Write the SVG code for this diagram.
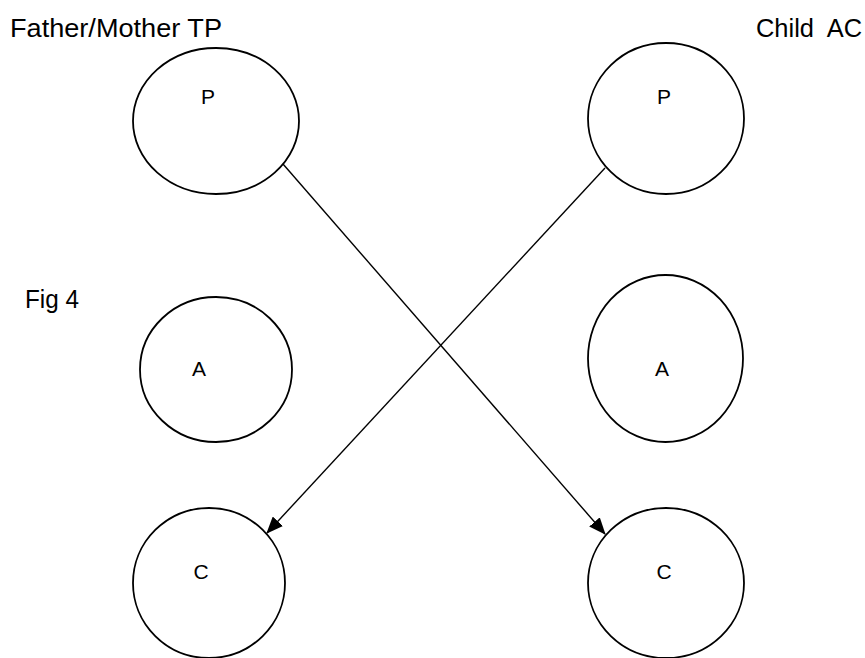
<svg xmlns="http://www.w3.org/2000/svg" width="865" height="658" viewBox="0 0 865 658">
  <style>
    .node { fill: #ffffff; stroke: #000000; stroke-width: 1.8; }
    .lbl { font-family: "Liberation Sans", Arial, sans-serif; font-size: 21px; fill: #000000; text-anchor: middle; }
    .cap { font-family: "Liberation Sans", Arial, sans-serif; font-size: 25px; fill: #000000; white-space: pre; }
    .edge { stroke: #000000; stroke-width: 1.4; fill: none; marker-end: url(#arrow); }
  </style>
  <defs>
    <marker id="arrow" markerWidth="18" markerHeight="14" refX="16" refY="7" orient="auto" markerUnits="userSpaceOnUse">
      <path d="M0,0 L17,7 L0,14 Z" fill="#000000"/>
    </marker>
  </defs>
  <rect width="865" height="658" fill="#ffffff"/>

  <text class="cap" x="10" y="37" textLength="212" lengthAdjust="spacingAndGlyphs">Father/Mother TP</text>
  <text class="cap" x="756" y="37" textLength="106" lengthAdjust="spacingAndGlyphs">Child  AC</text>
  <text class="cap" x="25" y="308" textLength="54" lengthAdjust="spacingAndGlyphs">Fig 4</text>

  <g id="parent-p">
    <ellipse class="node" cx="216" cy="121" rx="83" ry="73"/>
    <text class="lbl" x="208" y="104">P</text>
  </g>
  <g id="child-p">
    <ellipse class="node" cx="666" cy="118.5" rx="78" ry="75.5"/>
    <text class="lbl" x="664" y="104">P</text>
  </g>
  <g id="parent-a">
    <ellipse class="node" cx="216" cy="369.5" rx="76" ry="72.5"/>
    <text class="lbl" x="199" y="376">A</text>
  </g>
  <g id="child-a">
    <ellipse class="node" cx="665.5" cy="358.5" rx="77.5" ry="83.5"/>
    <text class="lbl" x="662" y="376">A</text>
  </g>
  <g id="parent-c">
    <ellipse class="node" cx="209" cy="583" rx="76" ry="75"/>
    <text class="lbl" x="201" y="579">C</text>
  </g>
  <g id="child-c">
    <ellipse class="node" cx="666" cy="583" rx="78" ry="75"/>
    <text class="lbl" x="664" y="579">C</text>
  </g>

  <g id="connectors">
    <line class="edge" x1="283" y1="164" x2="605" y2="534"/>
    <line class="edge" x1="605" y1="168" x2="267" y2="533"/>
  </g>
</svg>
